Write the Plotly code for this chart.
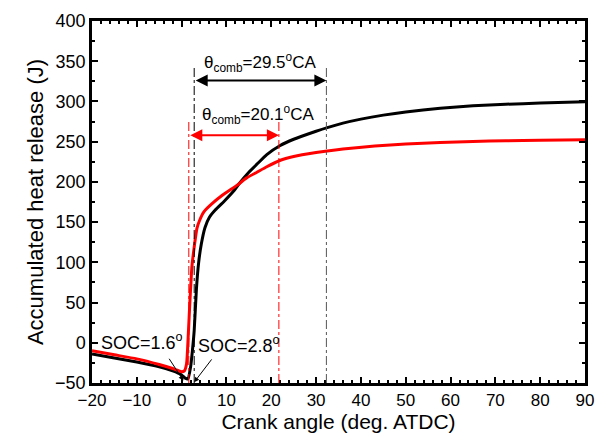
import plotly.graph_objects as go

# Black curve (SOC = 2.8 deg)
black_x = [-20, -15, -10, -5, -2, 0, 0.8, 1.4, 2.0, 2.4, 2.8, 3.3, 3.8, 4.4, 5.2, 6.2, 7.5, 9.5, 11.5,
           13.0, 15, 16.8, 19, 21.9, 25, 30, 32.5, 36, 40, 45, 50, 57.7, 65, 72.3, 80, 90]
black_y = [-14, -19, -24, -30, -35, -40, -44, -45, -30, -10, 15, 67, 100, 123, 143, 156, 165, 176, 188,
           199, 212, 222, 234, 245, 253, 263, 267.5, 273, 278, 283, 287, 291.5, 294.5, 296.5, 298, 299.5]

# Red curve (SOC = 1.6 deg)
red_x = [-20, -15, -10, -5, -2, 0, 0.6, 1.1, 1.5, 1.84, 2.3, 2.9, 3.4, 4.0, 5, 6.6, 9, 12.4, 14.5,
         16.8, 19, 21.9, 25, 30, 32.5, 36, 43.1, 50, 57.7, 65, 72.3, 80, 90]
red_y = [-10, -15, -20, -27, -32, -36, -35, -26, 12, 50.7, 95, 123, 142, 152, 163, 172, 183, 196, 205,
         212, 218.8, 226.6, 231.5, 236.5, 238.5, 240.8, 244.5, 247, 249, 250.3, 251.2, 251.8, 252.3]

# Start of combustion and combustion durations
soc_black, dur_black = 2.8, 29.5
soc_red, dur_red = 1.6, 20.1

FONT = "Arial, Liberation Sans, sans-serif"

fig = go.Figure()
fig.add_trace(go.Scatter(x=black_x, y=black_y, mode="lines",
                         line=dict(color="black", width=3, shape="spline", smoothing=0.5),
                         showlegend=False))
fig.add_trace(go.Scatter(x=red_x, y=red_y, mode="lines",
                         line=dict(color="#ff0000", width=3, shape="spline", smoothing=0.5),
                         showlegend=False))

# vertical dash-dot markers
eb = soc_black + dur_black
er = soc_red + dur_red
fig.add_shape(type="line", x0=soc_black, x1=soc_black, y0=-50, y1=345,
              line=dict(color="black", width=1, dash="dashdot"))
fig.add_shape(type="line", x0=eb, x1=eb, y0=-50, y1=345,
              line=dict(color="#555555", width=1, dash="dashdot"))
fig.add_shape(type="line", x0=soc_red, x1=soc_red, y0=-50, y1=275,
              line=dict(color="#ff0000", width=1, dash="dashdot"))
fig.add_shape(type="line", x0=er, x1=er, y0=-50, y1=275,
              line=dict(color="#ff0000", width=1, dash="dashdot"))

# double arrows
fig.add_annotation(x=eb, y=326, ax=soc_black, ay=326, axref="x", ayref="y", xref="x", yref="y",
                   text="", showarrow=True, arrowhead=2, arrowside="end+start", arrowsize=1.2,
                   arrowwidth=2, arrowcolor="black")
fig.add_annotation(x=er, y=258, ax=soc_red, ay=258, axref="x", ayref="y", xref="x", yref="y",
                   text="", showarrow=True, arrowhead=2, arrowside="end+start", arrowsize=1.2,
                   arrowwidth=2, arrowcolor="#ff0000")

fig.add_annotation(x=17.5, y=348, xref="x", yref="y", showarrow=False,
                   text="θ<sub>comb</sub>=%.1f<sup>o</sup>CA" % dur_black,
                   font=dict(family=FONT, size=17, color="black"))
fig.add_annotation(x=17.0, y=284, xref="x", yref="y", showarrow=False,
                   text="θ<sub>comb</sub>=%.1f<sup>o</sup>CA" % dur_red,
                   font=dict(family=FONT, size=17, color="black"))

# SOC labels
fig.add_annotation(x=-8.8, y=1, xref="x", yref="y", showarrow=False,
                   text="SOC=%.1f<sup>o</sup>" % soc_red, font=dict(family=FONT, size=18, color="black"))
fig.add_annotation(x=0.4, y=-47, ax=-3.0, ay=-18, axref="x", ayref="y", xref="x", yref="y",
                   text="", showarrow=True, arrowhead=2, arrowsize=1, arrowwidth=1, arrowcolor="black")
fig.add_annotation(x=12.9, y=-2.5, xref="x", yref="y", showarrow=False,
                   text="SOC=%.1f<sup>o</sup>" % soc_black, font=dict(family=FONT, size=18, color="black"))
fig.add_annotation(x=2.8, y=-49, ax=6.95, ay=-18.8, axref="x", ayref="y", xref="x", yref="y",
                   text="", showarrow=True, arrowhead=2, arrowsize=1, arrowwidth=1, arrowcolor="black")

axis_common = dict(showline=True, linecolor="black", linewidth=2.5, mirror="allticks",
                   ticks="inside", ticklen=6, tickwidth=2, tickcolor="black", showgrid=False,
                   zeroline=False)

fig.update_xaxes(range=[-20, 90], dtick=10, tick0=-20,
                 tickfont=dict(family=FONT, size=17, color="black"),
                 minor=dict(ticks="inside", ticklen=3, tickwidth=1.5, tickcolor="black", dtick=2,
                            showgrid=False),
                 title=dict(text="Crank angle (deg. ATDC)", font=dict(family=FONT, size=21, color="black"),
                            standoff=4),
                 **axis_common)
fig.update_yaxes(range=[-50, 400], dtick=50, tick0=-50,
                 tickfont=dict(family=FONT, size=18, color="black"),
                 minor=dict(ticks="inside", ticklen=3, tickwidth=1.5, tickcolor="black", dtick=25,
                            showgrid=False),
                 title=dict(text="Accumulated heat release (J)", font=dict(family=FONT, size=22, color="black"),
                            standoff=6),
                 **axis_common)

fig.update_layout(width=605, height=441, margin=dict(l=92, r=11, t=12, b=58),
                  plot_bgcolor="white", paper_bgcolor="white", font=dict(family=FONT))

fig.write_html("out.html")
